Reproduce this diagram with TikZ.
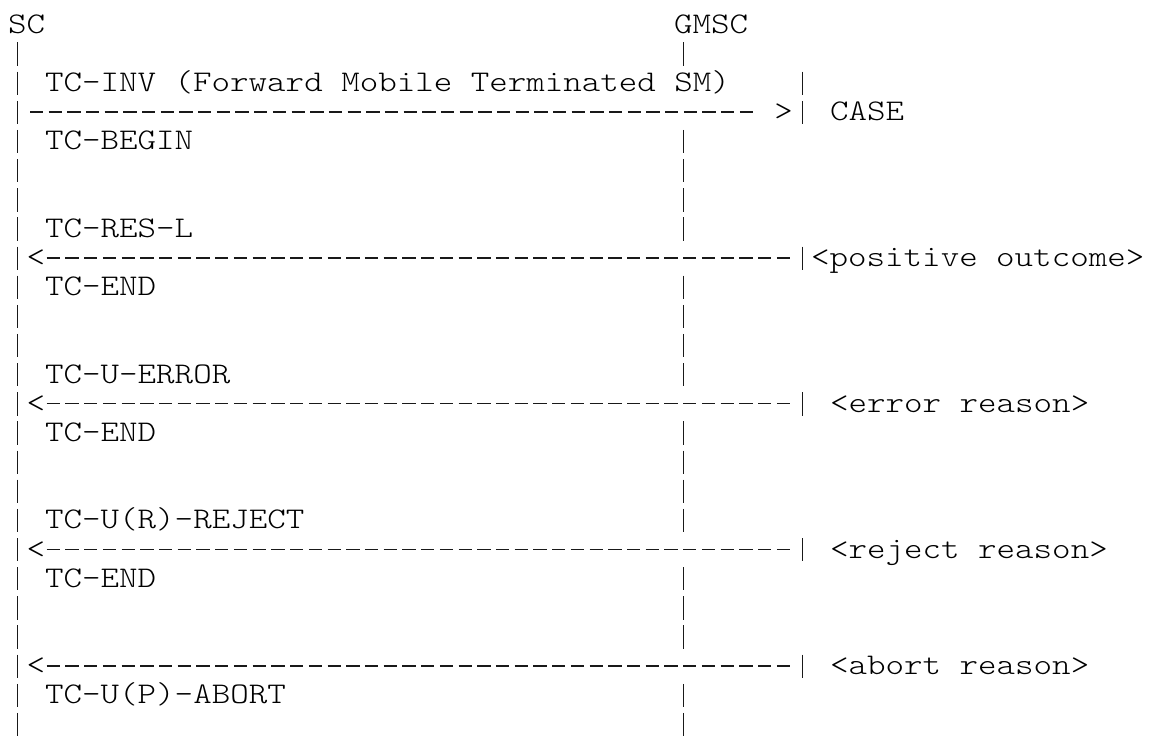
\documentclass[tikz,border=0pt]{standalone}
\usepackage{fontspec}
% thin typewriter face, widened to a Courier-like cell
\newfontfamily\courier{lmmonolt10-regular.otf}[FakeStretch=1.175]
\begin{document}
\begin{tikzpicture}[x=1pt,y=-1pt,
  txt/.style={font=\courier\fontsize{30}{30}\selectfont, inner sep=0pt, anchor=base west},
  tip/.style={font=\courier\fontsize{30}{30}\selectfont, inner sep=0pt, anchor=base},
  bar/.style={line width=1.5pt, draw=black!90},
  lifeline/.style={bar, dash pattern=on 23.3pt off 5.85pt},
  msgline/.style={line width=1.45pt, draw=black!90, dash pattern=on 13.3pt off 5.4pt}]
\useasboundingbox (0,0) rectangle (1149,737);

% entity names
\node[txt] (sc) at (8,33.3) {SC};
\node[txt] (gmsc) at (674,33.3) {GMSC};

% primitives on the SC side
\node[txt] (inv) at (45,91.6) {TC-INV (Forward Mobile Terminated SM)};
\node[txt] (begin) at (45,149.9) {TC-BEGIN};
\node[txt] (resl) at (45,237.35) {TC-RES-L};
\node[txt] (end1) at (45,295.65) {TC-END};
\node[txt] (uerr) at (45,383.1) {TC-U-ERROR};
\node[txt] (end2) at (45,441.4) {TC-END};
\node[txt] (urej) at (45,528.85) {TC-U(R)-REJECT};
\node[txt] (end3) at (45,587.15) {TC-END};
\node[txt] (uabort) at (45,703.75) {TC-U(P)-ABORT};

% outcomes on the GMSC side
\node[txt] (case) at (830,120.75) {CASE};
\node[txt] (pos) at (811,266.5) {<positive outcome>};
\node[txt] (err) at (830,412.25) {<error reason>};
\node[txt] (rej) at (830,558) {<reject reason>};
\node[txt] (abr) at (830,674.6) {<abort reason>};

% arrow tips
\node[tip] (tipinv) at (783.7,120.75) {>};
\node[tip] (tipres) at (36,266.5) {<};
\node[tip] (tiperr) at (36,412.25) {<};
\node[tip] (tiprej) at (36,558) {<};
\node[tip] (tipabr) at (36,674.6) {<};

% SC lifeline
\coordinate (sc-top) at (17.3,42.45);
\coordinate (sc-bot) at (17.3,736.2);
\draw[lifeline] (sc-top) -- (sc-bot);

% GMSC lifeline, broken where messages cross it
\coordinate (g1a) at (683.7,42.45);  \coordinate (g1b) at (683.7,65.75);
\coordinate (g2a) at (683.7,129.9);  \coordinate (g2b) at (683.7,240.65);
\coordinate (g3a) at (683.7,275.65); \coordinate (g3b) at (683.7,386.4);
\coordinate (g4a) at (683.7,421.4);  \coordinate (g4b) at (683.7,532.15);
\coordinate (g5a) at (683.7,567.15); \coordinate (g5b) at (683.7,648.75);
\coordinate (g6a) at (683.7,683.75); \coordinate (g6b) at (683.7,736.2);
\foreach \s in {1,...,6} \draw[lifeline] (g\s a) -- (g\s b);

% message end bars
\coordinate (r1a) at (802.3,71.6);   \coordinate (r1b) at (802.3,124.05);
\coordinate (r2a) at (802.3,246.5);  \coordinate (r2b) at (802.3,269.8);
\coordinate (r3a) at (802.3,392.25); \coordinate (r3b) at (802.3,415.55);
\coordinate (r4a) at (802.3,538);    \coordinate (r4b) at (802.3,561.3);
\coordinate (r5a) at (802.3,654.6);  \coordinate (r5b) at (802.3,677.9);
\foreach \s in {1,...,5} \draw[lifeline] (r\s a) -- (r\s b);

% messages
\coordinate (m1a) at (30,112.15);   \coordinate (m1b) at (753.3,112.15);
\coordinate (m2a) at (46.7,257.9);  \coordinate (m2b) at (790,257.9);
\coordinate (m3a) at (46.7,403.65); \coordinate (m3b) at (790,403.65);
\coordinate (m4a) at (46.7,549.4);  \coordinate (m4b) at (790,549.4);
\coordinate (m5a) at (46.7,666.0);  \coordinate (m5b) at (790,666.0);
\draw[msgline, dash pattern=on 13.3pt off 5.38pt] (m1a) -- (m1b);
\foreach \s in {2,...,5} \draw[msgline, dash pattern=on 13.3pt off 5.42pt] (m\s a) -- (m\s b);
\end{tikzpicture}
\end{document}
